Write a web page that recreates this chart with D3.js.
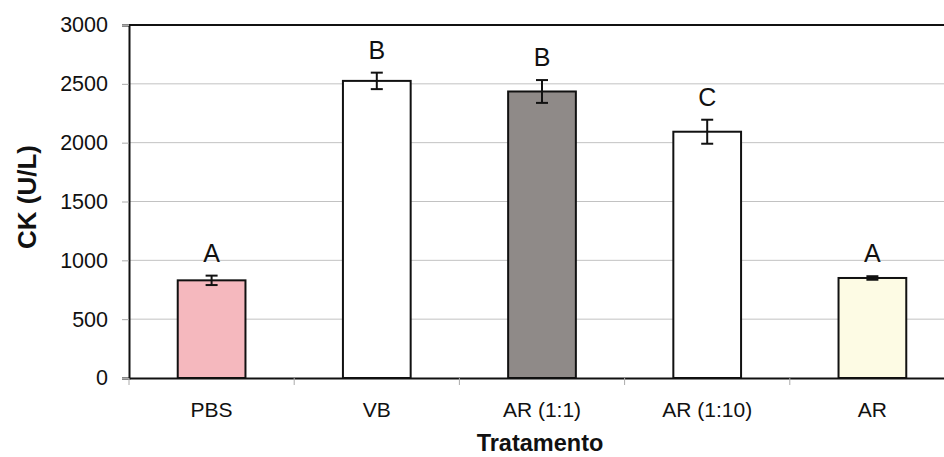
<!DOCTYPE html>
<html><head><meta charset="utf-8">
<script src="https://cdn.jsdelivr.net/npm/d3@7"></script>
<style>body{margin:0;background:#fff}svg{display:block}text{font-family:"Liberation Sans",Arial,sans-serif;fill:#111}</style>
</head><body><svg id="c" width="944" height="457"></svg>
<script>
const categories = ["PBS", "VB", "AR (1:1)", "AR (1:10)", "AR"];
const values = [830, 2525, 2435, 2093, 850];
const errors = [40, 70, 97, 102, 15];
const letters = ["A", "B", "B", "C", "A"];
const colors = ["#f5b8be", "#ffffff", "#8f8a88", "#ffffff", "#fdfbe4"];
const yTicks = [0, 500, 1000, 1500, 2000, 2500, 3000];

const svg = d3.select("#c");
const m = {l: 129, r: 955, t: 25, b: 378};
const x = d3.scaleBand().domain(categories).range([m.l, m.r]).paddingInner(0.59).paddingOuter(0.295);
const y = d3.scaleLinear().domain([0, 3000]).range([m.b, m.t]);

// gridlines
svg.append("g").selectAll("line").data(yTicks.filter(d => d > 0 && d < 3000)).join("line")
  .attr("x1", m.l).attr("x2", m.r).attr("y1", d => y(d)).attr("y2", d => y(d))
  .attr("stroke", "#c2c2c2").attr("stroke-width", 1);
// top border
svg.append("line").attr("x1", m.l).attr("x2", m.r).attr("y1", y(3000)).attr("y2", y(3000))
  .attr("stroke", "#111").attr("stroke-width", 2);

// y axis
const ya = svg.append("g").attr("transform", `translate(${m.l},0)`)
  .call(d3.axisLeft(y).tickValues(yTicks).tickFormat(d3.format("d")).tickSize(7).tickPadding(14));
ya.select(".domain").attr("stroke", "#111").attr("stroke-width", 2);
ya.selectAll(".tick line").attr("stroke", "#aaa");
ya.selectAll("text").attr("font-size", 21.5).attr("fill", "#111").attr("font-family", "Liberation Sans, Arial, sans-serif");

// bars
svg.append("g").selectAll("rect").data(categories).join("rect")
  .attr("x", d => x(d)).attr("width", x.bandwidth())
  .attr("y", (d, i) => y(values[i])).attr("height", (d, i) => y(0) - y(values[i]))
  .attr("fill", (d, i) => colors[i]).attr("stroke", "#111").attr("stroke-width", 2);

// x axis
const xa = svg.append("g").attr("transform", `translate(0,${m.b})`)
  .call(d3.axisBottom(x).tickSize(0).tickPadding(24));
xa.select(".domain").attr("stroke", "#111").attr("stroke-width", 2);
xa.selectAll("text").attr("font-size", 21).attr("fill", "#111").attr("font-family", "Liberation Sans, Arial, sans-serif");
// category separator ticks
const step = x.step();
svg.append("g").selectAll("line").data(d3.range(categories.length + 1)).join("line")
  .attr("x1", i => m.l + i * step).attr("x2", i => m.l + i * step)
  .attr("y1", m.b).attr("y2", m.b + 7).attr("stroke", "#aaa");

// error bars
const eb = svg.append("g").attr("stroke", "#111").attr("stroke-width", 2);
categories.forEach((c, i) => {
  const cx = x(c) + x.bandwidth() / 2;
  const hi = y(values[i] + errors[i]), lo = y(values[i] - errors[i]);
  eb.append("line").attr("x1", cx).attr("x2", cx).attr("y1", hi).attr("y2", lo);
  eb.append("line").attr("x1", cx - 6).attr("x2", cx + 6).attr("y1", hi).attr("y2", hi);
  eb.append("line").attr("x1", cx - 6).attr("x2", cx + 6).attr("y1", lo).attr("y2", lo);
});

// letters
svg.append("g").selectAll("text").data(categories).join("text")
  .attr("x", d => x(d) + x.bandwidth() / 2)
  .attr("y", (d, i) => y(values[i] + errors[i]) - 14)
  .attr("text-anchor", "middle").attr("font-size", 25)
  .text((d, i) => letters[i]);

// axis titles
svg.append("text").attr("transform", "translate(36,197) rotate(-90)")
  .attr("text-anchor", "middle").attr("font-size", 26).attr("font-weight", "bold").text("CK (U/L)");
svg.append("text").attr("x", 540).attr("y", 451)
  .attr("text-anchor", "middle").attr("font-size", 23.5).attr("font-weight", "bold").text("Tratamento");
</script></body></html>
